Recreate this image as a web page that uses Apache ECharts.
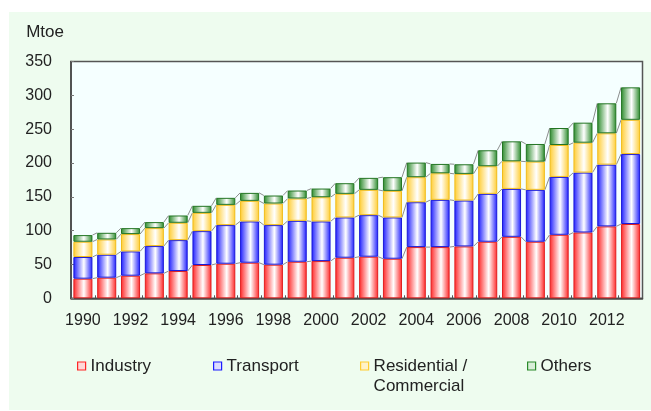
<!DOCTYPE html>
<html>
<head>
<meta charset="utf-8">
<script src="https://cdn.jsdelivr.net/npm/echarts@6/dist/echarts.min.js"></script>
<style>
  html, body { margin: 0; padding: 0; background: #ffffff; }
  #chart { width: 651px; height: 411px; }
</style>
</head>
<body>
<div id="chart"></div>
<script>
// Final energy consumption by sector, Mtoe
const years = ['1990','1991','1992','1993','1994','1995','1996','1997','1998','1999','2000','2001',
               '2002','2003','2004','2005','2006','2007','2008','2009','2010','2011','2012','2013'];
const industry    = [29.0, 30.5, 33.4, 36.9, 40.3, 49.2, 51.1, 52.6, 49.7, 54.0, 55.0, 60.0,
                     61.5, 58.5, 75.7, 75.7, 76.7, 83.6, 90.9, 83.6, 93.9, 97.3, 106.3, 109.8];
const transport   = [32.0, 33.9, 35.9, 40.3, 45.7, 50.1, 57.1, 61.0, 58.5, 60.5, 58.6, 59.5,
                     61.4, 61.0, 66.3, 69.8, 67.8, 70.8, 70.8, 76.7, 85.5, 88.5, 91.3, 103.4];
const residential = [22.6, 22.6, 25.6, 26.5, 25.6, 27.0, 29.9, 30.4, 31.9, 33.0, 35.8, 34.9,
                     37.4, 39.3, 37.0, 39.3, 39.4, 40.8, 40.8, 41.7, 47.2, 44.2, 46.3, 50.6];
const others      = [9.8, 9.8, 8.8, 8.9, 10.8, 10.4, 10.4, 11.8, 11.8, 11.8, 12.8, 15.7,
                     17.7, 20.2, 21.6, 13.8, 14.2, 23.6, 29.5, 26.1, 25.1, 29.6, 44.3, 48.0];
const yTicks = { min: 0, max: 350, interval: 50 };

const sectors = [
  { name: 'Industry',                 data: industry,    color: '#ff2626', edge: '#e02020', light: '#ffd8d8' },
  { name: 'Transport',                data: transport,   color: '#1c1cff', edge: '#1a1ad8', light: '#dcdcff' },
  { name: 'Residential / Commercial', data: residential, color: '#ffcc30', edge: '#f0bc1c', light: '#fff2c8' },
  { name: 'Others',                   data: others,      color: '#2a8a2a', edge: '#237523', light: '#d8eed8' }
];

const GAP = 0.2; // share of each category band left empty between bars
const FONT = '"Liberation Sans", Arial, sans-serif';

function barFill(c) {
  return new echarts.graphic.LinearGradient(0, 0, 1, 0, [
    { offset: 0, color: c },
    { offset: 0.55, color: '#ffffff' },
    { offset: 1, color: c }
  ]);
}

// running totals at the top of each segment, used for the connector lines
const totals = [];
let acc = years.map(() => 0);
sectors.forEach(s => {
  acc = acc.map((v, i) => v + s.data[i]);
  totals.push(acc.slice());
});

const series = sectors.map(s => ({
  name: s.name,
  type: 'bar',
  stack: 'all',
  barCategoryGap: (GAP * 100) + '%',
  data: s.data,
  itemStyle: { color: barFill(s.color), borderColor: s.edge, borderWidth: 1 },
  emphasis: { disabled: true }
}));

// thin lines linking each segment top to the same segment of the next bar
totals.forEach(t => {
  series.push({
    type: 'custom',
    silent: true,
    z: 1,
    data: t.map((v, i) => [i, v, i + 1 < t.length ? t[i + 1] : v]),
    encode: { x: 0, y: 1 },
    renderItem: function (params, api) {
      const i = api.value(0);
      if (i >= years.length - 1) return null;
      const band = api.size([1, 0])[0];
      const half = band * (1 - GAP) / 2;
      const p0 = api.coord([i, api.value(1)]);
      const p1 = api.coord([i + 1, api.value(2)]);
      return {
        type: 'line',
        shape: { x1: p0[0] + half, y1: p0[1], x2: p1[0] - half, y2: p1[1] },
        style: { stroke: '#707070', lineWidth: 0.8 }
      };
    }
  });
});

// Legend text is centred on its marker, so the wrapped label gets an empty
// first line to keep "Residential /" level with the marker.
const legendLefts = [77, 213, 360, 527];
const legends = sectors.map((s, k) => {
  const twoLine = s.name.indexOf(' / ') >= 0;
  return {
    left: legendLefts[k],
    top: twoLine ? 336 : 356,
    padding: 0,
    itemWidth: 8,
    itemHeight: 8,
    itemGap: 0,
    selectedMode: false,
    icon: 'rect',
    formatter: n => (n.indexOf(' / ') >= 0 ? ' \n' + n.replace(' / ', ' /\n') : n),
    textStyle: { fontFamily: FONT, fontSize: 17, color: '#222', lineHeight: 20 },
    data: [{ name: s.name, itemStyle: { color: s.light, borderColor: s.color, borderWidth: 1.2 } }]
  };
});

const chart = echarts.init(document.getElementById('chart'), null, { renderer: 'canvas' });
chart.setOption({
  animation: false,
  backgroundColor: '#ffffff',
  graphic: [{
    type: 'rect', z: -10, silent: true,
    shape: { x: 9, y: 12, width: 642, height: 398 },
    style: { fill: '#eefcef' }
  }],
  grid: {
    left: 71, right: 8.5, top: 61.5, bottom: 112.7,
    show: true, backgroundColor: '#f5ffff', borderColor: '#555555', borderWidth: 1.5
  },
  legend: legends,
  xAxis: {
    type: 'category',
    data: years,
    boundaryGap: true,
    axisLine: { lineStyle: { color: '#444444', width: 1.5 } },
    axisTick: { show: true, inside: true, length: 3, interval: 0, lineStyle: { color: '#555555' } },
    axisLabel: { interval: 1, margin: 14, fontFamily: FONT, fontSize: 16, color: '#222' },
    splitLine: { show: false }
  },
  yAxis: {
    type: 'value',
    min: yTicks.min, max: yTicks.max, interval: yTicks.interval,
    name: 'Mtoe',
    nameLocation: 'end',
    nameGap: 21,
    nameTextStyle: { fontFamily: FONT, fontSize: 17, color: '#222', align: 'right', padding: [0, 7, 0, 0] },
    axisLine: { show: true, lineStyle: { color: '#444444', width: 1.5 } },
    axisTick: { show: true, inside: true, length: 3, lineStyle: { color: '#777777' } },
    axisLabel: { margin: 19, fontFamily: FONT, fontSize: 16, color: '#222' },
    splitLine: { show: false }
  },
  series: series
});
</script>
</body>
</html>
